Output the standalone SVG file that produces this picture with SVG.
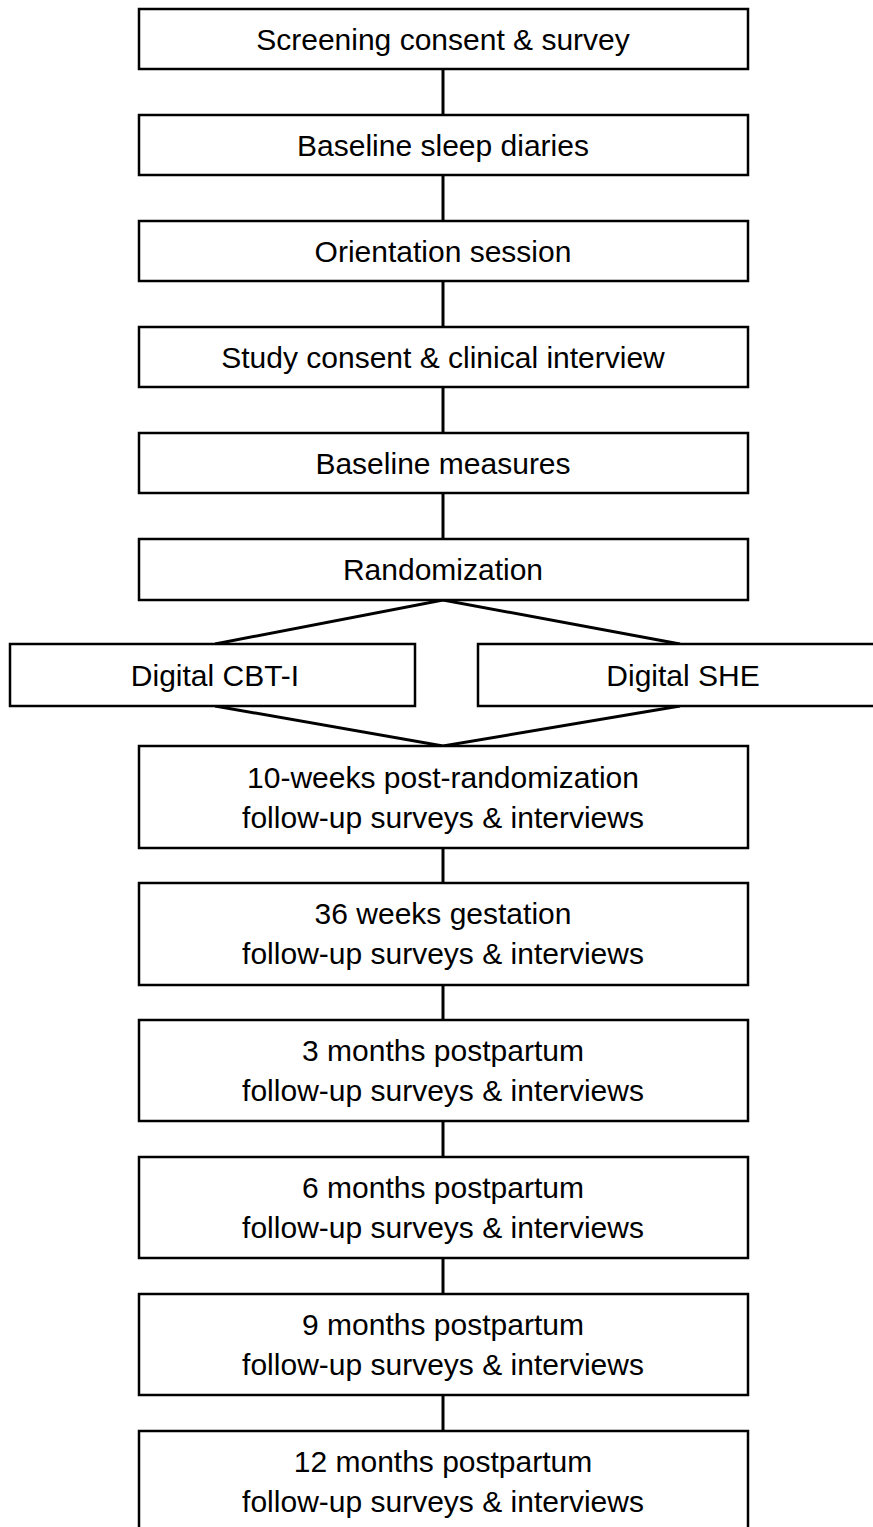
<svg xmlns="http://www.w3.org/2000/svg" width="873" height="1527" viewBox="0 0 873 1527">
<style>
.b{fill:#fff;stroke:#000;stroke-width:2.5}
.t{font-family:"Liberation Sans",Arial,sans-serif;font-size:30px;fill:#000;text-anchor:middle}
.c{stroke:#000;stroke-width:3;fill:none}
</style>
<rect width="873" height="1527" fill="#fff"/>
<g id="connectors">
<line class="c" x1="443" y1="69" x2="443" y2="115"/>
<line class="c" x1="443" y1="175" x2="443" y2="221"/>
<line class="c" x1="443" y1="281" x2="443" y2="327"/>
<line class="c" x1="443" y1="387" x2="443" y2="433"/>
<line class="c" x1="443" y1="493" x2="443" y2="539"/>
<polyline class="c" points="215,644 443,600 680,644"/>
<polyline class="c" points="215,706 443,746 680,706"/>
<line class="c" x1="443" y1="848" x2="443" y2="883"/>
<line class="c" x1="443" y1="985" x2="443" y2="1020"/>
<line class="c" x1="443" y1="1121" x2="443" y2="1157"/>
<line class="c" x1="443" y1="1258" x2="443" y2="1294"/>
<line class="c" x1="443" y1="1395" x2="443" y2="1431"/>
</g>
<g id="n1"><rect class="b" x="139" y="9" width="609" height="60"/><text class="t" x="443" y="50">Screening consent &amp; survey</text></g>
<g id="n2"><rect class="b" x="139" y="115" width="609" height="60"/><text class="t" x="443" y="156">Baseline sleep diaries</text></g>
<g id="n3"><rect class="b" x="139" y="221" width="609" height="60"/><text class="t" x="443" y="262">Orientation session</text></g>
<g id="n4"><rect class="b" x="139" y="327" width="609" height="60"/><text class="t" x="443" y="368">Study consent &amp; clinical interview</text></g>
<g id="n5"><rect class="b" x="139" y="433" width="609" height="60"/><text class="t" x="443" y="474">Baseline measures</text></g>
<g id="n6"><rect class="b" x="139" y="539" width="609" height="61"/><text class="t" x="443" y="580">Randomization</text></g>
<g id="n7"><rect class="b" x="10" y="644" width="405" height="62"/><text class="t" x="215" y="686">Digital CBT-I</text></g>
<g id="n8"><rect class="b" x="478" y="644" width="400" height="62"/><text class="t" x="683" y="686">Digital SHE</text></g>
<g id="n9"><rect class="b" x="139" y="746" width="609" height="102"/><text class="t" x="443" y="788">10-weeks post-randomization</text><text class="t" x="443" y="828">follow-up surveys &amp; interviews</text></g>
<g id="n10"><rect class="b" x="139" y="883" width="609" height="102"/><text class="t" x="443" y="924">36 weeks gestation</text><text class="t" x="443" y="964">follow-up surveys &amp; interviews</text></g>
<g id="n11"><rect class="b" x="139" y="1020" width="609" height="101"/><text class="t" x="443" y="1061">3 months postpartum</text><text class="t" x="443" y="1101">follow-up surveys &amp; interviews</text></g>
<g id="n12"><rect class="b" x="139" y="1157" width="609" height="101"/><text class="t" x="443" y="1198">6 months postpartum</text><text class="t" x="443" y="1238">follow-up surveys &amp; interviews</text></g>
<g id="n13"><rect class="b" x="139" y="1294" width="609" height="101"/><text class="t" x="443" y="1335">9 months postpartum</text><text class="t" x="443" y="1375">follow-up surveys &amp; interviews</text></g>
<g id="n14"><rect class="b" x="139" y="1431" width="609" height="110"/><text class="t" x="443" y="1472">12 months postpartum</text><text class="t" x="443" y="1512">follow-up surveys &amp; interviews</text></g>
</svg>
